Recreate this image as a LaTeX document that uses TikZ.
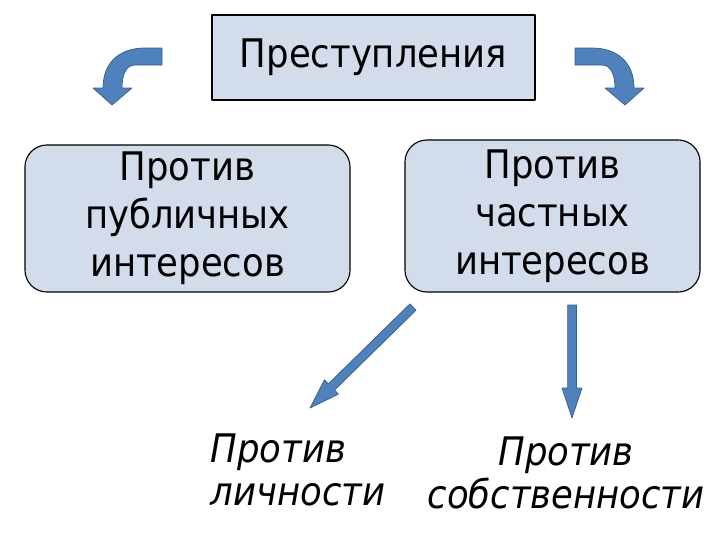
\documentclass[tikz,border=0pt]{standalone}
\usepackage{fontspec}
\setmainfont{DejaVu Sans Condensed}
\usetikzlibrary{calc}
\definecolor{boxfill}{RGB}{211,220,234}
\definecolor{arrfill}{RGB}{79,129,189}
\definecolor{arrline}{RGB}{56,93,138}
% straight block arrow: #1 tail, #2 tip
\newcommand\fatarrow[2]{%
	\coordinate (hb) at ($(#2)!0.75cm!(#1)$);
	\fill[arrfill, draw=arrline, line width=.5pt, line join=round] ($(#1)!0.11cm!90:(#2)$)--($(hb)!0.11cm!90:(#2)$)--($(hb)!0.25cm!90:(#2)$)--(#2)--($(hb)!0.25cm!-90:(#2)$)--($(hb)!0.11cm!-90:(#2)$)--($(#1)!0.11cm!-90:(#2)$)--cycle;}
\begin{document}
\begin{tikzpicture}[x=0.025cm, y=-0.025cm, font=\fontsize{28}{32}\selectfont, line join=round,
	topbox/.style={draw=black, fill=boxfill, line width=.8pt, minimum width=8.075cm, minimum height=2.125cm},
	kindbox/.style={draw=black, fill=boxfill, line width=.8pt, rounded corners=0.55cm, align=center, inner sep=0pt},
	objtext/.style={font=\fontsize{28}{30}\selectfont\itshape, align=center, inner sep=0pt},
	bent/.style={fill=arrfill, draw=arrline, line width=.5pt}]
	\useasboundingbox (0,0) rectangle (720,540);
	\node[topbox] (crime) at (373.5,57.5) {Преступления};
	\node[kindbox, minimum width=8.125cm, minimum height=3.675cm] (pub) at (187.5,218.5) {Против\\[2pt]публичных\\[2pt]интересов};
	\node[kindbox, minimum width=7.375cm, minimum height=3.8cm] (priv) at (552.5,216) {Против\\[2pt]частных\\[2pt]интересов};
	\node[objtext, align=left] (pers) at (298,470) {Против\\личности};
	\node[objtext] (prop) at (566,473) {Против\\собственности};
	% bent arrows beside the top box
	\draw[bent] (162,48)--(145,48) .. controls (120,48) and (103,62) .. (103,88)--(93,88)--(112,105)--(132,88)--(122,88) .. controls (122,75) and (126,65) .. (135,65)--(162,65)--cycle;
	\draw[bent] (575,48)--(592,48) .. controls (617,48) and (634,62) .. (634,88)--(644,88)--(625,105)--(605,88)--(615,88) .. controls (615,75) and (611,65) .. (602,65)--(575,65)--cycle;
	% arrows from the private box
	\coordinate (d1) at (413,307); \coordinate (d2) at (310,408);
	\coordinate (v1) at (572,305); \coordinate (v2) at (572,418);
	\fatarrow{d1}{d2}
	\fatarrow{v1}{v2}
\end{tikzpicture}
\end{document}
